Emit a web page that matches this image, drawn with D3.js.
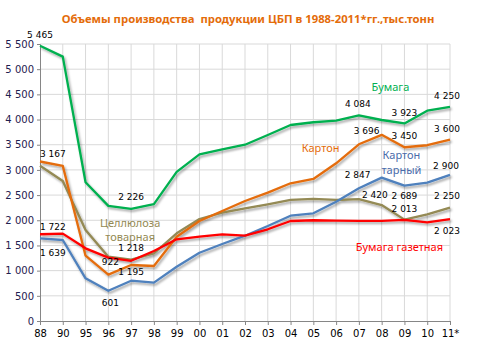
<!DOCTYPE html>
<html>
<head>
<meta charset="utf-8">
<script src="https://cdn.jsdelivr.net/npm/d3@7"></script>
<style>
  body { margin: 0; background: #fff; }
  svg { display: block; }
</style>
</head>
<body>
<div id="chart"></div>
<script>
// годы (категории оси X)
const years = ["88", "90", "95", "96", "97", "98", "99", "00", "01", "02", "03", "04", "05", "06", "07", "08", "09", "10", "11*"];

// тыс. тонн
const bumaga = [5465, 5250, 2755, 2285, 2226, 2320, 2960, 3310, 3410, 3500, 3693, 3892, 3946, 3980, 4084, 3991, 3923, 4176, 4250];
const karton = [3167, 3080, 1297, 922, 1112, 1092, 1674, 1986, 2184, 2383, 2548, 2734, 2820, 3131, 3509, 3696, 3450, 3490, 3600];
const kartonTarny = [1639, 1608, 848, 601, 800, 761, 1078, 1356, 1529, 1694, 1886, 2091, 2138, 2369, 2635, 2847, 2689, 2746, 2900];
const cellulose = [3084, 2780, 1807, 1277, 1218, 1344, 1741, 2025, 2150, 2238, 2317, 2403, 2423, 2403, 2420, 2303, 2013, 2119, 2250];
const gazetnaya = [1722, 1735, 1443, 1258, 1195, 1390, 1622, 1674, 1722, 1694, 1821, 1986, 2000, 1992, 1990, 1990, 2006, 1960, 2023];

const yTicks = [0, 500, 1000, 1500, 2000, 2500, 3000, 3500, 4000, 4500, 5000, 5500];

const series = [
  { key: "cellulose", values: cellulose, color: "#948A54" },
  { key: "bumaga", values: bumaga, color: "#00B050" },
  { key: "karton", values: karton, color: "#E46C0A" },
  { key: "kartonTarny", values: kartonTarny, color: "#4F81BD" },
  { key: "gazetnaya", values: gazetnaya, color: "#FF0000" }
];

// подписи значений: серия, индекс точки, сдвиг подписи
const labelSpots = [
  ["bumaga", 0, 0, -11, "middle"],
  ["karton", 0, 0, -8, "start"],
  ["gazetnaya", 0, 0, -7, "start"],
  ["kartonTarny", 0, 0, 14, "start"],
  ["karton", 3, 2, -13, "middle"],
  ["kartonTarny", 3, 2, 12, "middle"],
  ["bumaga", 4, 0, -12, "middle"],
  ["cellulose", 4, 0, -12, "middle"],
  ["gazetnaya", 4, 0, 11, "middle"],
  ["bumaga", 14, -1, -11, "middle"],
  ["bumaga", 16, 0, -11, "middle"],
  ["bumaga", 18, -3, -11, "middle"],
  ["karton", 15, -15, -4, "middle"],
  ["karton", 16, 0, -11, "middle"],
  ["karton", 18, -3, -11, "middle"],
  ["kartonTarny", 15, -24, -3, "middle"],
  ["kartonTarny", 16, 0, 10, "middle"],
  ["kartonTarny", 18, -4, -9, "middle"],
  ["cellulose", 14, 16, -4, "middle"],
  ["cellulose", 16, 0, -11, "middle"],
  ["cellulose", 18, -3, -12, "middle"],
  ["gazetnaya", 18, -3, 12, "middle"]
];

// названия серий
const seriesNames = [
  { lines: ["Бумага"], color: "#00B050", cat: "09", dx: -14, val: 4640 },
  { lines: ["Картон"], color: "#E46C0A", cat: "04", dx: 30, val: 3430 },
  { lines: ["Картон", "тарный"], color: "#4A6BAA", cat: "09", dx: -3, val: 3285 },
  { lines: ["Целлюлоза", "товарная"], color: "#948A54", cat: "97", dx: -1, val: 1950 },
  { lines: ["Бумага газетная"], color: "#FF0000", cat: "09", dx: -5, val: 1475 }
];

const width = 480, height = 360;
const margin = { top: 44, right: 30, bottom: 39, left: 40 };

const svg = d3.select("#chart").append("svg")
  .attr("width", width)
  .attr("height", height);

const defs = svg.append("defs");
const f = defs.append("filter").attr("id", "shadow")
  .attr("x", "-10%").attr("y", "-10%").attr("width", "130%").attr("height", "130%");
f.append("feDropShadow")
  .attr("dx", 1.5).attr("dy", 2).attr("stdDeviation", 1.2)
  .attr("flood-color", "#000").attr("flood-opacity", 0.35);

const x = d3.scalePoint()
  .domain(years)
  .range([margin.left, width - margin.right]);

const y = d3.scaleLinear()
  .domain([0, 5500])
  .range([height - margin.bottom, margin.top]);

// заголовок
svg.append("text")
  .attr("x", 248).attr("y", 23)
  .attr("text-anchor", "middle")
  .style("white-space", "pre")
  .style("font-family", "'Noto Sans', sans-serif")
  .style("font-size", "11.3px")
  .style("font-weight", "bold")
  .style("fill", "#E46C0A")
  .text("Объемы производства  продукции ЦБП в 1988-2011*гг.,тыс.тонн");

// сетка
const grid = svg.append("g");
grid.selectAll("line.h")
  .data(yTicks.filter(d => d > 0))
  .join("line")
  .attr("x1", margin.left).attr("x2", width - margin.right)
  .attr("y1", d => y(d)).attr("y2", d => y(d))
  .style("stroke", "#D9D9D9").style("stroke-width", 1);
grid.selectAll("line.v")
  .data(years.slice(1))
  .join("line")
  .attr("x1", d => x(d)).attr("x2", d => x(d))
  .attr("y1", y(0)).attr("y2", y(5500))
  .style("stroke", "#D9D9D9").style("stroke-width", 1);

// оси
const yAxis = svg.append("g")
  .attr("transform", "translate(" + margin.left + ",0)")
  .call(d3.axisLeft(y).tickValues(yTicks).tickSize(3)
    .tickFormat(d => d3.format(",")(d).replace(/,/g, " ")));
yAxis.select(".domain").style("stroke", "#868686");
yAxis.selectAll(".tick line").style("stroke", "#868686");
yAxis.selectAll("text")
  .style("font-family", "'DejaVu Sans', sans-serif")
  .style("font-size", "10px")
  .style("fill", "#1F2050")
  .attr("x", -6);

const xAxis = svg.append("g")
  .attr("transform", "translate(0," + y(0) + ")")
  .call(d3.axisBottom(x).tickSize(4).tickSizeOuter(0));
xAxis.select(".domain").style("stroke", "#868686");
xAxis.selectAll(".tick line").style("stroke", "#868686");
xAxis.selectAll("text")
  .style("font-family", "'DejaVu Sans', sans-serif")
  .style("font-size", "10px")
  .style("fill", "#000")
  .attr("y", 9);

// линии
const line = d3.line()
  .x((d, i) => x(years[i]))
  .y(d => y(d));

svg.append("g")
  .attr("filter", "url(#shadow)")
  .selectAll("path")
  .data(series)
  .join("path")
  .attr("d", d => line(d.values))
  .style("fill", "none")
  .style("stroke", d => d.color)
  .style("stroke-width", 2.3)
  .style("stroke-linejoin", "round");

// подписи значений
const byKey = {};
series.forEach(s => byKey[s.key] = s);

svg.append("g")
  .selectAll("text")
  .data(labelSpots)
  .join("text")
  .attr("x", d => x(years[d[1]]) + d[2])
  .attr("y", d => y(byKey[d[0]].values[d[1]]) + d[3])
  .attr("dy", "0.35em")
  .attr("text-anchor", d => d[4])
  .style("font-family", "'DejaVu Sans', sans-serif")
  .style("font-size", "9px")
  .style("fill", "#000")
  .text(d => d3.format(",")(byKey[d[0]].values[d[1]]).replace(/,/g, " "));

// названия серий
const names = svg.append("g")
  .selectAll("text")
  .data(seriesNames)
  .join("text")
  .attr("x", d => x(d.cat) + d.dx)
  .attr("y", d => y(d.val))
  .attr("text-anchor", "middle")
  .style("font-family", "'Noto Sans', sans-serif")
  .style("font-size", "11px")
  .style("fill", d => d.color);

names.selectAll("tspan")
  .data(d => d.lines.map((t, i) => ({ t, i, x: x(d.cat) + d.dx })))
  .join("tspan")
  .attr("x", d => d.x)
  .attr("dy", d => d.i === 0 ? "0.35em" : "1.3em")
  .text(d => d.t);
</script>
</body>
</html>
